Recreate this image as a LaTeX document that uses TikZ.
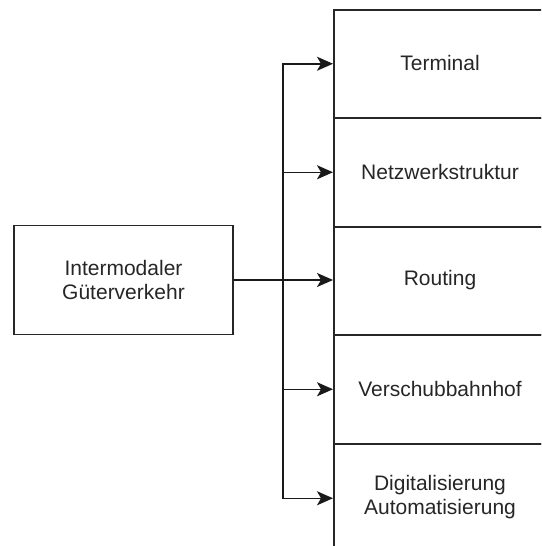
\documentclass[tikz,border=0pt]{standalone}
\usepackage{fontspec}
\setmainfont{Liberation Sans}
\usetikzlibrary{arrows.meta}
\begin{document}
\begin{tikzpicture}[x=1pt,y=-1pt,
  box/.style={draw=black!85,line width=1.5pt,minimum width=#1,inner sep=0pt},
  lbl/.style={align=center,font=\fontsize{21}{24}\selectfont,text=black!85},
  conn/.style={draw=black!90,line width=1.5pt,-{Stealth[length=16pt,width=14pt,inset=4pt]}}]
\useasboundingbox (0,0) rectangle (541,546);
\begin{scope}
\clip (0,0) rectangle (541,546);
\node[box=219pt,minimum height=109pt,lbl] (src) at (123.5,280) {Intermodaler\\Güterverkehr};
\node[box=220pt,minimum height=108pt,anchor=north west] (t1) at (333,9) {};
\node[box=220pt,minimum height=109pt,anchor=north west] (t2) at (333,117) {};
\node[box=220pt,minimum height=108pt,anchor=north west] (t3) at (333,226) {};
\node[box=220pt,minimum height=109pt,anchor=north west] (t4) at (333,334) {};
\node[box=220pt,minimum height=109pt,anchor=north west] (t5) at (333,443) {};
\node[lbl] (l1) at (440,63) {Terminal};
\node[lbl] (l2) at (440,172) {Netzwerkstruktur};
\node[lbl] (l3) at (440,280) {Routing};
\node[lbl] (l4) at (440,389) {Verschubbahnhof};
\node[lbl] (l5) at (440,497) {Digitalisierung\\Automatisierung};
\coordinate (j) at (283,280);
\draw[conn] (src.east) -- (src.east -| t3.west);
\draw[conn] (j) |- (t1.west);
\draw[conn] (j) |- (t2.west);
\draw[conn] (j) |- (t4.west);
\draw[conn] (j) |- (t5.west);
\end{scope}
\end{tikzpicture}
\end{document}
